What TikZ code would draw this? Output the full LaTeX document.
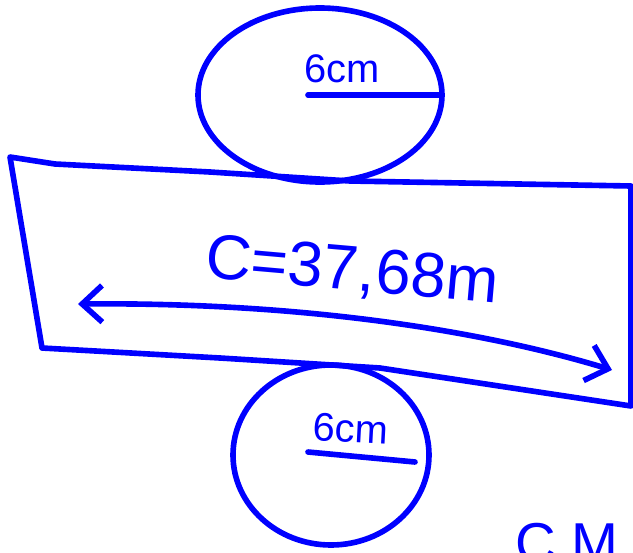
\documentclass[tikz,border=0pt]{standalone}
\usepackage{fontspec}
\setsansfont{Liberation Sans}
\usetikzlibrary{arrows.meta}
\definecolor{pen}{HTML}{0000FF}
\def\W{633}
\def\H{553}
\tikzset{
  stroke/.style={pen,line width=4.8pt,line cap=round,line join=round},
  hand/.style={pen,font=\sffamily\fontsize{#1}{#1}\selectfont,inner sep=0pt},
  twoway/.style={{Straight Barb[length=6mm,width=11mm]}-{Straight Barb[length=6mm,width=11mm]}},
}

\begin{document}
\begin{tikzpicture}[x=0.03cm,y=-0.03cm]
\useasboundingbox (0,0) rectangle (\W,\H);

% ---------------------------------------------------------------- top disc
\draw[stroke] (320,95) ellipse (122 and 87);
\coordinate (ctop) at (308,95);
\coordinate (etop) at (442,95);
\draw[stroke] (ctop) -- (etop);
\node[hand=34,anchor=base] (rtop) at (342,82) {6cm};

% ---------------------------------------------------------------- lateral face
\coordinate (tl) at (10,157);
\coordinate (tr) at (631,186);
\coordinate (br) at (631,406);
\coordinate (bl) at (42,348);
\draw[stroke] (tl) -- (55,164) -- (210,172) -- (350,181) -- (tr)
      -- (br) -- (380,368) -- (220,358) -- (bl) -- cycle;
\node[hand=54,rotate=-5] (circ) at (352,272) {C=37,68m};
\coordinate (al) at (78,304);
\coordinate (ar) at (612,370);
\draw[stroke,twoway]
      (al) .. controls (300,302) and (480,330) .. (ar);

% ---------------------------------------------------------------- bottom disc
\draw[stroke] (331,455) ellipse (98 and 90);
\node[hand=34,anchor=base,rotate=-3] (rbot) at (350,442) {6cm};
\coordinate (ul) at (308,452);
\coordinate (ur) at (415,462);
\draw[stroke] (ul) -- (ur);

% ---------------------------------------------------------------- corner note
\node[hand=48,anchor=base west] (note) at (515,562) {C M};

\end{tikzpicture}
\end{document}
